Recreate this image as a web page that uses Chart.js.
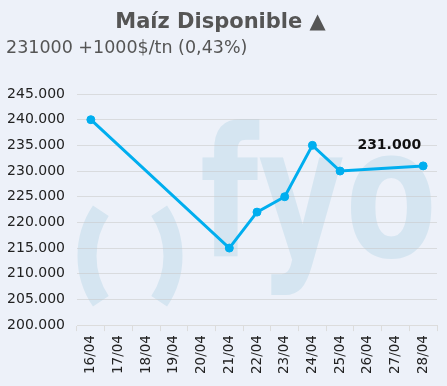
<!DOCTYPE html>
<html>
<head>
<meta charset="utf-8">
<script src="https://cdn.jsdelivr.net/npm/chart.js@4"></script>
<style>
  html, body { margin: 0; padding: 0; background: #edf1f9; }
  body { width: 447px; height: 386px; position: relative; overflow: hidden; font-family: "DejaVu Sans", Verdana, sans-serif; }
  #title { position: absolute; top: 9px; left: 0; width: 441px; text-align: center; font-size: 21px; font-weight: bold; color: #555; }
  #subtitle { position: absolute; top: 37px; left: 6px; font-size: 17.5px; color: #555; }
  #wrap { position: absolute; top: 0; left: 0; width: 447px; height: 386px; }
</style>
</head>
<body>
<div id="wrap"><canvas id="myChart"></canvas></div>
<div id="title">Maíz Disponible ▲</div>
<div id="subtitle">231000 +1000$/tn (0,43%)</div>
<script>
const fechas = ['16/04', '17/04', '18/04', '19/04', '20/04', '21/04', '22/04', '23/04', '24/04', '25/04', '26/04', '27/04', '28/04'];
const precios = [240000, null, null, null, null, 215000, 222000, 225000, 235000, 230000, null, null, 231000];
const yMin = 200000;
const yMax = 245000;
const yStep = 5000;

const fmt = (v) => v.toLocaleString('de-DE');

// fyo logo in the background
const watermark = {
    id: 'watermark',
    beforeDraw(chart) {
        const ctx = chart.ctx;
        ctx.save();
        ctx.fillStyle = '#d5e5f1';
        ctx.strokeStyle = '#d5e5f1';
        ctx.lineWidth = 19;
        ctx.lineCap = 'butt';
        const a = 34 * Math.PI / 180;
        ctx.beginPath();
        ctx.arc(168, 256, 81, Math.PI - a, Math.PI + a);
        ctx.stroke();
        ctx.beginPath();
        ctx.arc(92, 256, 81, -a, a);
        ctx.stroke();
        ctx.font = 'bold 180px "DejaVu Sans"';
        ctx.textBaseline = 'alphabetic';
        const w = ctx.measureText('fyo').width;
        ctx.translate(200, 256);
        ctx.scale(237 / w, 1);
        ctx.fillText('fyo', 0, 0);
        ctx.restore();
    }
};

const lastLabel = {
    id: 'lastLabel',
    afterDatasetsDraw(chart) {
        const meta = chart.getDatasetMeta(0);
        const i = precios.length - 1;
        const pt = meta.data[i];
        const ctx = chart.ctx;
        ctx.save();
        ctx.font = 'bold 14px "DejaVu Sans"';
        ctx.fillStyle = '#111';
        ctx.textAlign = 'right';
        ctx.fillText(fmt(precios[i]), pt.x - 2, pt.y - 17);
        ctx.restore();
    }
};

const config = {
    type: 'line',
    data: {
        labels: fechas,
        datasets: [{
            data: precios,
            borderColor: '#00aeef',
            backgroundColor: '#00aeef',
            borderWidth: 3,
            pointRadius: 4,
            pointBorderWidth: 1,
            pointHoverRadius: 4,
            spanGaps: true,
            tension: 0
        }]
    },
    options: {
        responsive: true,
        maintainAspectRatio: false,
        animation: false,
        layout: { padding: { top: 94, left: 7, right: 10, bottom: 8 } },
        plugins: {
            legend: { display: false },
            tooltip: { enabled: false }
        },
        scales: {
            x: {
                offset: true,
                grid: { display: true, drawOnChartArea: false, drawTicks: true, tickLength: 6, color: '#dcdcdc', offset: true },
                border: { display: true, color: '#dcdcdc' },
                ticks: {
                    minRotation: 90,
                    maxRotation: 90,
                    padding: 4,
                    color: '#222',
                    font: { family: 'DejaVu Sans', size: 13.5 }
                }
            },
            y: {
                min: yMin,
                max: yMax,
                afterFit: (scale) => { scale.width = 70; },
                grid: { color: 'rgba(200,200,200,0.55)', drawTicks: false },
                border: { display: false },
                ticks: {
                    stepSize: yStep,
                    padding: 12,
                    color: '#222',
                    font: { family: 'DejaVu Sans', size: 14 },
                    callback: (v) => fmt(v)
                }
            }
        }
    },
    plugins: [watermark, lastLabel]
};

new Chart(document.getElementById('myChart'), config);
</script>
</body>
</html>
